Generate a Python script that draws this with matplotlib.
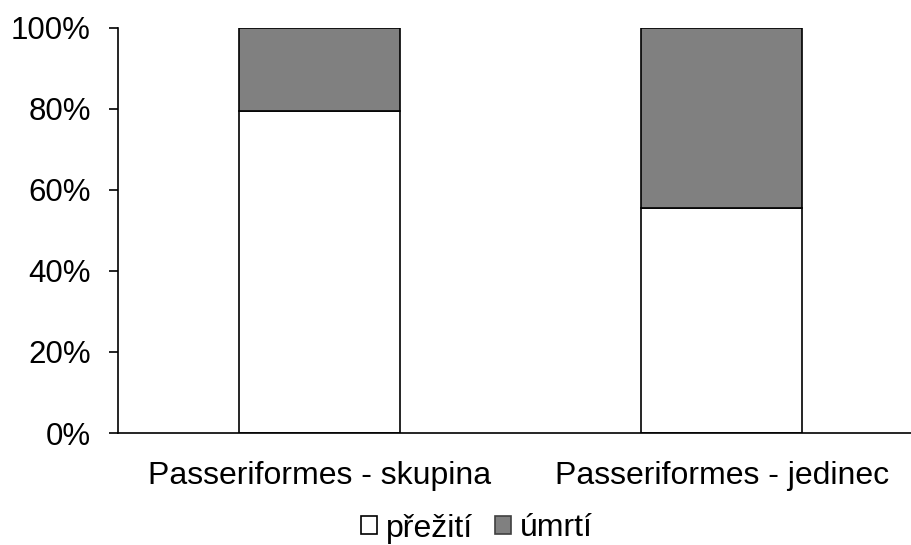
import matplotlib

matplotlib.use("Agg")
import matplotlib.pyplot as plt
from matplotlib.ticker import PercentFormatter

categories = ["Passeriformes - skupina", "Passeriformes - jedinec"]
prezit = [79.5, 55.4]
umrti = [20.5, 44.6]
series_labels = ["přežití", "úmrtí"]

plt.rcParams["font.family"] = ["Liberation Sans", "DejaVu Sans"]

fig = plt.figure(figsize=(9.12, 5.45), dpi=100)
ax = fig.add_axes([0.1294, 0.2055, 0.8695, 0.744])

x = range(len(categories))
ax.bar(x, prezit, width=0.4, color="white", edgecolor="black", linewidth=1.2,
       label=series_labels[0])
ax.bar(x, umrti, width=0.4, bottom=prezit, color="#808080", edgecolor="black",
       linewidth=1.2, label=series_labels[1])

ax.set_xlim(-0.5, 1.47)
ax.set_ylim(0, 100)
ax.set_yticks([0, 20, 40, 60, 80, 100])
ax.yaxis.set_major_formatter(PercentFormatter(decimals=0))
ax.set_xticks(list(x))
ax.set_xticklabels(categories)
ax.tick_params(axis="y", labelsize=22.5, length=6.5, width=1.2, pad=13)
ax.tick_params(axis="x", labelsize=23, length=0, pad=20)

for side in ("top", "right"):
    ax.spines[side].set_visible(False)
for side in ("left", "bottom"):
    ax.spines[side].set_linewidth(1.2)

leg = fig.legend(loc="lower center", bbox_to_anchor=(0.523, -0.05), ncol=2,
                 frameon=False, fontsize=23, handlelength=0.5, handleheight=0.5,
                 handletextpad=0.28, columnspacing=0.7)
leg.legend_handles[1].set_edgecolor("#404040")

fig.savefig("out.png", dpi=100)
